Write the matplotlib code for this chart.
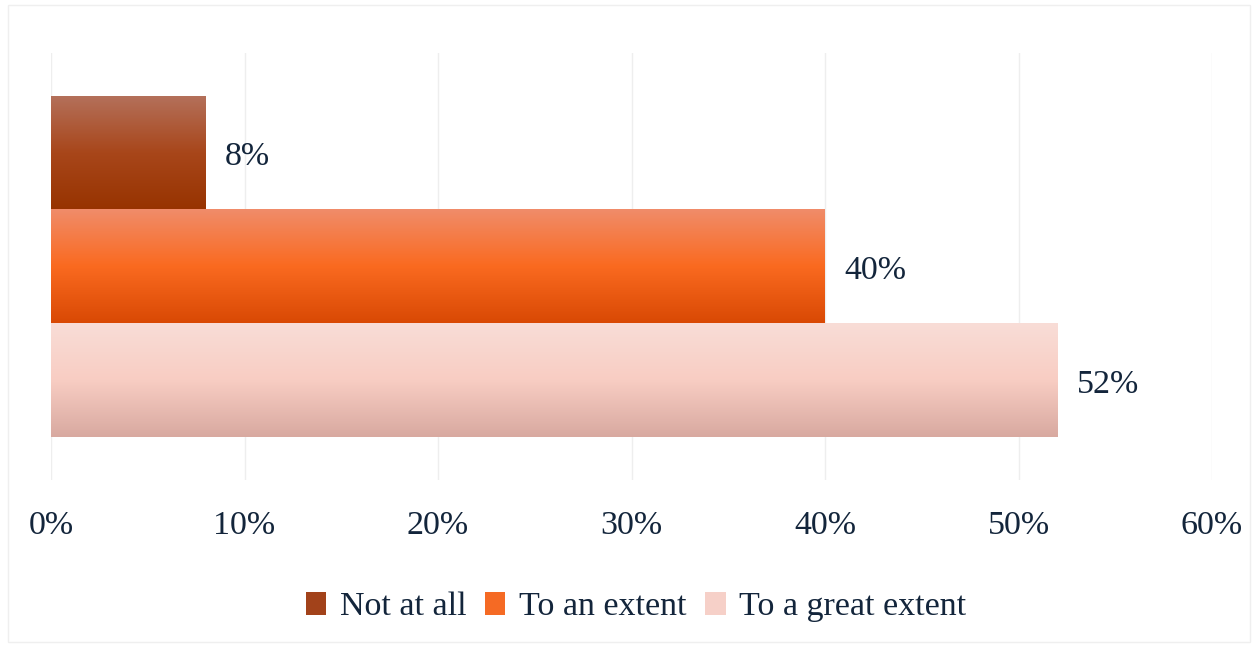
import matplotlib
matplotlib.use("Agg")
import matplotlib.pyplot as plt
import numpy as np
from matplotlib.colors import LinearSegmentedColormap
from matplotlib.patches import Rectangle

series = ["Not at all", "To an extent", "To a great extent"]
values = [8, 40, 52]
xticks = [0, 10, 20, 30, 40, 50, 60]
xtick_labels = ["0%", "10%", "20%", "30%", "40%", "50%", "60%"]

gradients = [
    ["#b4705a", "#a8461a", "#973300"],
    ["#f08c6a", "#fa6a20", "#d94904"],
    ["#f9ddd7", "#f8cdc3", "#d8a9a0"],
]
legend_colors = ["#a2421a", "#f56a24", "#f6d0c8"]
text_color = "#13253b"

plt.rcParams['font.family'] = ['Liberation Serif', 'DejaVu Serif']

fig = plt.figure(figsize=(12.59, 6.49), dpi=100)
W, H = 1259, 649
ax = fig.add_axes([51 / W, 1 - 480 / H, (1212 - 51) / W, (480 - 53) / H])

ypos = [2, 1, 0]
bars = ax.barh(ypos, values, height=1.0, color="none", edgecolor="none")
for b, grad in zip(bars, gradients):
    x0, y0 = b.get_x(), b.get_y()
    w, h = b.get_width(), b.get_height()
    cmap = LinearSegmentedColormap.from_list("g", grad)
    img = np.linspace(0, 1, 256).reshape(-1, 1)
    ax.imshow(img, cmap=cmap, aspect="auto", extent=[x0, x0 + w, y0, y0 + h],
              origin="upper", zorder=2, interpolation="bicubic")

for y, v in zip(ypos, values):
    ax.text(v + 1.0, y - 0.035, f"{v}%", va="center", ha="left", fontsize=24.5,
            color=text_color)

ax.set_xlim(0, 60)
ax.set_ylim(-0.875, 2.875)
ax.set_xticks(xticks)
ax.set_xticklabels(xtick_labels, fontsize=24.5, color=text_color)
ax.set_yticks([])
ax.tick_params(axis="x", length=0, pad=22)
ax.grid(axis="x", color="#eeeeee", linewidth=1, zorder=0)
ax.set_axisbelow(True)
for s in ax.spines.values():
    s.set_visible(False)

handles = [Rectangle((0, 0), 1, 1, facecolor=c, edgecolor="none") for c in legend_colors]
fig.legend(handles, series, loc="center", bbox_to_anchor=(636 / W, 1 - 607 / H),
           ncol=3, frameon=False, fontsize=24.5, handlelength=0.6, handleheight=0.65,
           handletextpad=0.4, columnspacing=0.55, labelcolor=text_color)

fig.patches.append(Rectangle((8 / W, 1 - 642 / H), (1250 - 8) / W, (642 - 5) / H,
                             transform=fig.transFigure, facecolor="none",
                             edgecolor="#efefef", linewidth=1))

fig.savefig("out.png", dpi=100)
